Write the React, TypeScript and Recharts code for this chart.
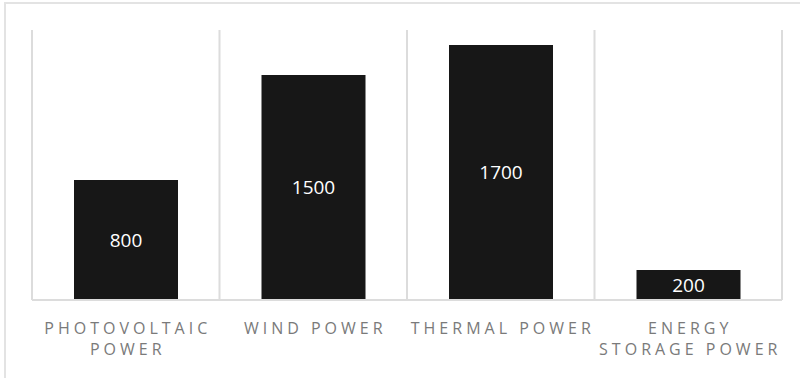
import React from 'react';
import { BarChart, Bar, XAxis, YAxis, CartesianGrid, LabelList } from 'recharts';

const categories = ['Photovoltaic Power', 'Wind Power', 'Thermal Power', 'Energy Storage Power'];
const capacity = [800, 1500, 1700, 200];
const tickLines = [['PHOTOVOLTAIC', 'POWER'], ['WIND POWER'], ['THERMAL POWER'], ['ENERGY', 'STORAGE POWER']];
const yDomain = [0, 1800];

const data = categories.map((c, i) => ({ name: c, value: capacity[i] }));

const LS = 4;

const CategoryTick = (props: any) => {
  const { x, y, payload } = props;
  const idx = categories.indexOf(payload.value);
  const lines = tickLines[idx] || [String(payload.value)];
  return (
    <g>
      {lines.map((line, i) => (
        <text
          key={i}
          x={x + LS / 2}
          y={y + 26 + i * 21}
          textAnchor="middle"
          fill="#7a7a7a"
          fontSize={16}
          fontFamily="'Open Sans', sans-serif"
          letterSpacing={LS}
        >
          {line}
        </text>
      ))}
    </g>
  );
};

export default function App() {
  return (
    <div style={{ position: 'absolute', left: 0, top: 0, width: 800, height: 378, overflow: 'hidden', background: '#fff' }}>
      <div
        style={{
          position: 'absolute',
          left: 4,
          top: 2,
          width: 900,
          height: 500,
          border: '2px solid #e3e3e3',
          boxSizing: 'border-box',
        }}
      />
      <div style={{ position: 'absolute', left: 0, top: 0 }}>
        <BarChart
          width={800}
          height={378}
          data={data}
          margin={{ top: 30, right: 18, left: 32, bottom: 0 }}
        >
          <CartesianGrid
            horizontal={false}
            vertical={true}
            stroke="#dcdcdc"
            strokeWidth={2}
            verticalCoordinatesGenerator={({ offset }: any) =>
              categories.map((_, i) => offset.left + (i * offset.width) / categories.length).concat([offset.left + offset.width])
            }
          />
          <XAxis
            dataKey="name"
            axisLine={{ stroke: '#dcdcdc', strokeWidth: 2 }}
            tickLine={false}
            interval={0}
            tick={<CategoryTick />}
            height={78}
          />
          <YAxis hide domain={yDomain} />
          <Bar dataKey="value" fill="#171717" barSize={104} isAnimationActive={false}>
            <LabelList
              dataKey="value"
              position="center"
              fill="#ffffff"
              fontSize={19}
              fontFamily="'Open Sans', sans-serif"
            />
          </Bar>
        </BarChart>
      </div>
    </div>
  );
}
